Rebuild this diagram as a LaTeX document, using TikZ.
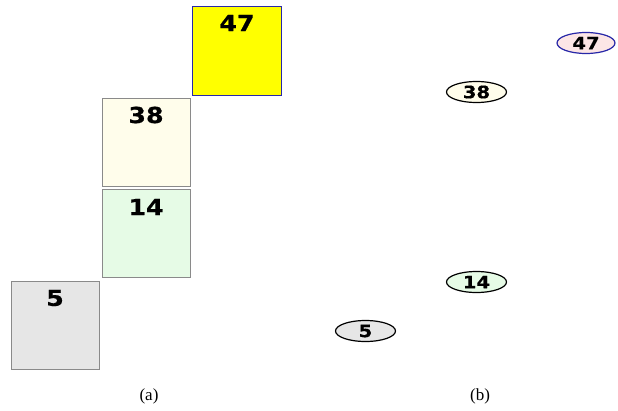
\documentclass[tikz,border=0pt]{standalone}
\usepackage{fontspec}
\usetikzlibrary{shapes.geometric}
\setmainfont{Liberation Serif}
\newfontfamily\digitfont[FakeStretch=1.15,FakeBold=0.6]{DejaVu Sans}
\definecolor{cYellow}{HTML}{FFFF00}
\definecolor{cBlueB}{HTML}{2828A8}
\definecolor{cCream}{HTML}{FFFDEB}
\definecolor{cGreen}{HTML}{E6FBE6}
\definecolor{cGray}{HTML}{E6E6E6}
\definecolor{cPink}{HTML}{FCE6E6}
\definecolor{cBorder}{HTML}{8A8A8A}
\begin{document}
\begin{tikzpicture}[x=1pt,y=-1pt,
  sqbox/.style={draw=cBorder,line width=0.9pt,rectangle,minimum width=88pt,minimum height=88pt,inner sep=0pt},
  sqlabel/.style={font=\digitfont\bfseries\fontsize{22}{22}\selectfont,inner sep=0pt,anchor=center},
  oval/.style={draw=black,line width=1.2pt,ellipse,minimum width=58pt,minimum height=21pt,inner sep=0pt,font=\digitfont\bfseries\fontsize{17}{17}\selectfont},
  caption/.style={font=\fontsize{17}{17}\selectfont,inner sep=0pt}]
\useasboundingbox (0,0) rectangle (618,410);
% (a) boxes
\node[sqbox,fill=cYellow,draw=cBlueB,line width=1.3pt,minimum width=89pt,minimum height=89pt] (b47) at (237,51) {};
\node[sqbox,fill=cCream] (b38) at (146,142) {};
\node[sqbox,fill=cGreen] (b14) at (146,233.5) {};
\node[sqbox,fill=cGray] (b5) at (55,325.5) {};
\node[sqlabel] (t47) at (237,23) {47};
\node[sqlabel] (t38) at (146,115) {38};
\node[sqlabel] (t14) at (146,207) {14};
\node[sqlabel] (t5) at (55,298) {5};
% (b) ovals
\node[oval,fill=cPink,draw=cBlueB] (e47) at (586,43) {47};
\node[oval,fill=cCream,minimum width=60pt] (e38) at (476.5,92) {38};
\node[oval,fill=cGreen,minimum width=60pt] (e14) at (476.5,282) {14};
\node[oval,fill=cGray,minimum width=60pt] (e5) at (365.5,331) {5};
% captions
\node[caption] (ca) at (149,396) {(a)};
\node[caption] (cb) at (480,396) {(b)};
\end{tikzpicture}
\end{document}
